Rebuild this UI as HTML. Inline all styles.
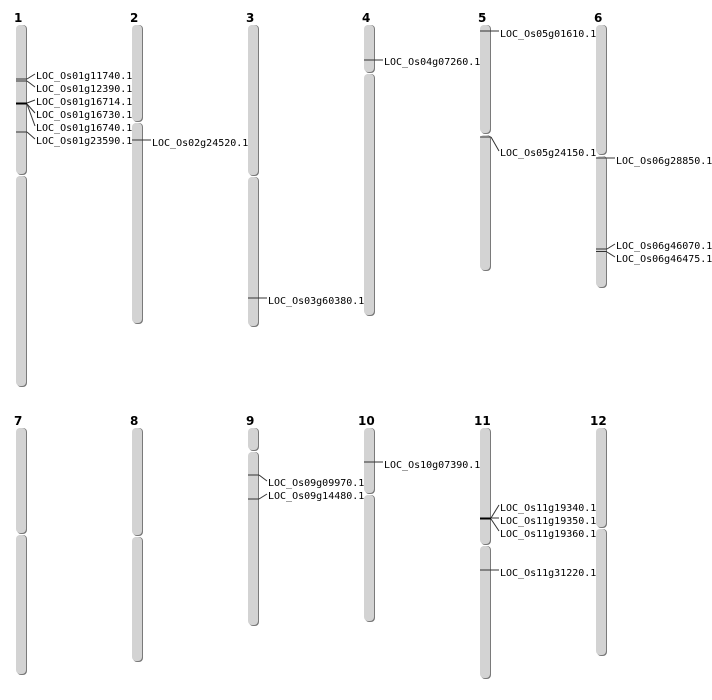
<!DOCTYPE html>
<html><head><meta charset="utf-8"><style>
html,body{margin:0;padding:0;background:#fff;width:712px;height:700px;overflow:hidden}
text{font-family:"DejaVu Sans Mono","Liberation Mono",monospace;font-size:10px;fill:#000;transform:translateY(1px)}
.t{font-family:"DejaVu Sans","Liberation Sans",sans-serif;font-weight:bold;font-size:12px;transform:none}
.s{fill:#7a7a7a}.a{fill:#d3d3d3}
line{stroke:#333;stroke-width:1}
</style></head><body>
<svg width="712" height="700" xmlns="http://www.w3.org/2000/svg">
<text class="t" x="14" y="22">1</text><text class="t" x="130" y="22">2</text><text class="t" x="246" y="22">3</text>
<text class="t" x="362" y="22">4</text><text class="t" x="478" y="22">5</text><text class="t" x="594" y="22">6</text>
<text class="t" x="14" y="425">7</text><text class="t" x="130" y="425">8</text><text class="t" x="246" y="425">9</text>
<text class="t" x="358" y="425">10</text><text class="t" x="474" y="425">11</text><text class="t" x="590" y="425">12</text>

<g>
<rect class="s" x="17" y="25" width="10" height="150" rx="4"/><rect class="a" x="16" y="25" width="10" height="149" rx="4"/>
<rect class="s" x="17" y="176" width="10" height="211" rx="4"/><rect class="a" x="16" y="176" width="10" height="210" rx="4"/>
<rect class="s" x="133" y="25" width="10" height="97" rx="4"/><rect class="a" x="132" y="25" width="10" height="96" rx="4"/>
<rect class="s" x="133" y="123" width="10" height="201" rx="4"/><rect class="a" x="132" y="123" width="10" height="200" rx="4"/>
<rect class="s" x="249" y="25" width="10" height="151" rx="4"/><rect class="a" x="248" y="25" width="10" height="150" rx="4"/>
<rect class="s" x="249" y="177" width="10" height="150" rx="4"/><rect class="a" x="248" y="177" width="10" height="149" rx="4"/>
<rect class="s" x="365" y="25" width="10" height="48" rx="4"/><rect class="a" x="364" y="25" width="10" height="47" rx="4"/>
<rect class="s" x="365" y="74" width="10" height="242" rx="4"/><rect class="a" x="364" y="74" width="10" height="241" rx="4"/>
<rect class="s" x="481" y="25" width="10" height="109" rx="4"/><rect class="a" x="480" y="25" width="10" height="108" rx="4"/>
<rect class="s" x="481" y="135" width="10" height="136" rx="4"/><rect class="a" x="480" y="135" width="10" height="135" rx="4"/>
<rect class="s" x="597" y="25" width="10" height="130" rx="4"/><rect class="a" x="596" y="25" width="10" height="129" rx="4"/>
<rect class="s" x="597" y="156" width="10" height="132" rx="4"/><rect class="a" x="596" y="156" width="10" height="131" rx="4"/>
<rect class="s" x="17" y="428" width="10" height="106" rx="4"/><rect class="a" x="16" y="428" width="10" height="105" rx="4"/>
<rect class="s" x="17" y="535" width="10" height="140" rx="4"/><rect class="a" x="16" y="535" width="10" height="139" rx="4"/>
<rect class="s" x="133" y="428" width="10" height="108" rx="4"/><rect class="a" x="132" y="428" width="10" height="107" rx="4"/>
<rect class="s" x="133" y="537" width="10" height="125" rx="4"/><rect class="a" x="132" y="537" width="10" height="124" rx="4"/>
<rect class="s" x="249" y="428" width="10" height="23" rx="4"/><rect class="a" x="248" y="428" width="10" height="22" rx="4"/>
<rect class="s" x="249" y="452" width="10" height="174" rx="4"/><rect class="a" x="248" y="452" width="10" height="173" rx="4"/>
<rect class="s" x="365" y="428" width="10" height="66" rx="4"/><rect class="a" x="364" y="428" width="10" height="65" rx="4"/>
<rect class="s" x="365" y="495" width="10" height="127" rx="4"/><rect class="a" x="364" y="495" width="10" height="126" rx="4"/>
<rect class="s" x="481" y="428" width="10" height="117" rx="4"/><rect class="a" x="480" y="428" width="10" height="116" rx="4"/>
<rect class="s" x="481" y="546" width="10" height="133" rx="4"/><rect class="a" x="480" y="546" width="10" height="132" rx="4"/>
<rect class="s" x="597" y="428" width="10" height="100" rx="4"/><rect class="a" x="596" y="428" width="10" height="99" rx="4"/>
<rect class="s" x="597" y="529" width="10" height="127" rx="4"/><rect class="a" x="596" y="529" width="10" height="126" rx="4"/>
</g>

<g>
<line x1="16" y1="79" x2="27" y2="79"/><line x1="16" y1="81" x2="27" y2="81"/>
<line x1="16" y1="103.5" x2="27" y2="103.5" style="stroke-width:2;stroke:#000"/>
<line x1="16" y1="132" x2="27" y2="132"/>
<line x1="27" y1="79" x2="35" y2="74"/><line x1="27" y1="81" x2="35" y2="87"/>
<line x1="27" y1="103" x2="35" y2="100"/><line x1="27" y1="104" x2="35" y2="113"/><line x1="27" y1="104" x2="35" y2="126"/>
<line x1="27" y1="132" x2="35" y2="139"/>
<text x="36" y="78">LOC_Os01g11740.1</text><text x="36" y="91">LOC_Os01g12390.1</text>
<text x="36" y="104">LOC_Os01g16714.1</text><text x="36" y="117">LOC_Os01g16730.1</text>
<text x="36" y="130">LOC_Os01g16740.1</text><text x="36" y="143">LOC_Os01g23590.1</text>

<line x1="132" y1="140" x2="151" y2="140"/><text x="152" y="145">LOC_Os02g24520.1</text>
<line x1="248" y1="298" x2="267" y2="298"/><text x="268" y="303">LOC_Os03g60380.1</text>
<line x1="364" y1="60" x2="383" y2="60"/><text x="384" y="64">LOC_Os04g07260.1</text>

<line x1="480" y1="31" x2="499" y2="31"/><text x="500" y="36">LOC_Os05g01610.1</text>
<line x1="480" y1="137" x2="491" y2="137"/><line x1="491" y1="137" x2="499" y2="151"/><text x="500" y="155">LOC_Os05g24150.1</text>

<line x1="596" y1="158" x2="615" y2="158"/><text x="616" y="163">LOC_Os06g28850.1</text>
<line x1="596" y1="249" x2="607" y2="249"/><line x1="596" y1="251.5" x2="607" y2="251.5"/>
<line x1="607" y1="249" x2="615" y2="244"/><line x1="607" y1="252" x2="615" y2="257"/>
<text x="616" y="248">LOC_Os06g46070.1</text><text x="616" y="261">LOC_Os06g46475.1</text>

<line x1="248" y1="475" x2="259" y2="475"/><line x1="259" y1="475" x2="267" y2="481"/>
<line x1="248" y1="499" x2="259" y2="499"/><line x1="259" y1="499" x2="267" y2="494"/>
<text x="268" y="485">LOC_Os09g09970.1</text><text x="268" y="498">LOC_Os09g14480.1</text>

<line x1="364" y1="462" x2="383" y2="462"/><text x="384" y="467">LOC_Os10g07390.1</text>

<line x1="480" y1="518.5" x2="491" y2="518.5" style="stroke-width:2;stroke:#000"/>
<line x1="491" y1="518" x2="499" y2="505"/><line x1="491" y1="518" x2="499" y2="518"/><line x1="491" y1="519" x2="499" y2="531"/>
<text x="500" y="510">LOC_Os11g19340.1</text><text x="500" y="523">LOC_Os11g19350.1</text><text x="500" y="536">LOC_Os11g19360.1</text>
<line x1="480" y1="570" x2="499" y2="570"/><text x="500" y="575">LOC_Os11g31220.1</text>
</g>
</svg>
</body></html>
